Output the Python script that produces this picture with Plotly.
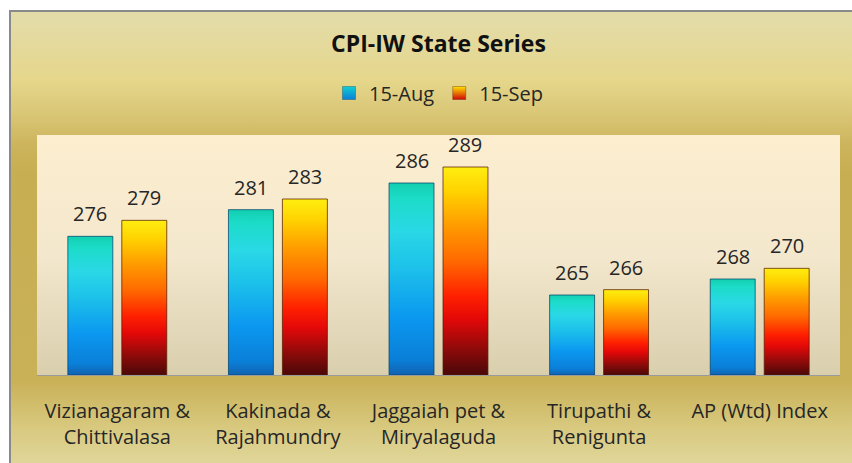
import base64
import plotly.graph_objects as go

# ---------------- data ----------------
categories = [
    "Vizianagaram &<br>Chittivalasa",
    "Kakinada &<br>Rajahmundry",
    "Jaggaiah pet &<br>Miryalaguda",
    "Tirupathi &<br>Renigunta",
    "AP (Wtd) Index",
]
series_names = ["15-Aug", "15-Sep"]
aug_values = [276, 281, 286, 265, 268]
sep_values = [279, 283, 289, 266, 270]
y_range = [250, 295]

# ---------------- styling ----------------
W, H = 852, 463
ML, MR, MT, MB = 37, 12, 135, 88
PW, PH = W - ML - MR, H - MT - MB
FONT = "Open Sans"

bar_w = 0.28
bar_off = 0.168

aug_scale = [[0.0, "#1262b0"], [0.08, "#0a7fd8"], [0.3, "#0b98f0"],
             [0.55, "#1cc0ea"], [0.75, "#2ad8e6"], [0.92, "#1cdcc8"], [1.0, "#12cfb0"]]
sep_scale = [[0.0, "#4a0808"], [0.12, "#8c0a0a"], [0.27, "#e40808"],
             [0.38, "#ff2000"], [0.55, "#ff6a00"], [0.72, "#ff9c00"],
             [0.88, "#ffd200"], [1.0, "#ffee10"]]

bg_svg = f"""<svg xmlns="http://www.w3.org/2000/svg" width="{W}" height="{H}" viewBox="0 0 {W} {H}" preserveAspectRatio="none">
<defs>
<linearGradient id="gold" x1="0" y1="0" x2="0" y2="1">
<stop offset="0.02" stop-color="#e4dca8"/>
<stop offset="0.15" stop-color="#e5d68a"/>
<stop offset="0.22" stop-color="#dac777"/>
<stop offset="0.29" stop-color="#ccb45c"/>
<stop offset="0.35" stop-color="#c8ae52"/>
<stop offset="0.80" stop-color="#c9b158"/>
<stop offset="0.90" stop-color="#d8c97f"/>
<stop offset="1" stop-color="#e3daa2"/>
</linearGradient>
<linearGradient id="cream" x1="0" y1="0" x2="0" y2="1">
<stop offset="0" stop-color="#fdeecf"/>
<stop offset="0.5" stop-color="#f3e7cd"/>
<stop offset="1" stop-color="#d9cfad"/>
</linearGradient>
</defs>
<rect x="0" y="0" width="{W}" height="{H}" fill="#ffffff"/>
<rect x="10" y="11" width="{W}" height="{H}" fill="url(#gold)"/>
<rect x="9" y="10" width="{W}" height="2" fill="#8a8a8a"/>
<rect x="9" y="10" width="2" height="{H}" fill="#8a8a8a"/>
<rect x="{ML}" y="{MT}" width="{PW}" height="{PH}" fill="url(#cream)"/>
</svg>"""
bg_uri = "data:image/svg+xml;base64," + base64.b64encode(bg_svg.encode()).decode()

fig = go.Figure()

series = [
    (series_names[0], aug_values, aug_scale, -bar_off, "rgba(0,70,110,0.75)", "#12cfd0", "#0a7fd8"),
    (series_names[1], sep_values, sep_scale, bar_off, "rgba(90,30,0,0.75)", "#ffe000", "#d00808"),
]

base = y_range[0]
for name, vals, scale, off, edge, ctop, cbot in series:
    for i, v in enumerate(vals):
        x0 = i + off - bar_w / 2
        x1 = i + off + bar_w / 2
        fig.add_trace(go.Scatter(
            x=[x0, x0, x1, x1, x0],
            y=[base, v, v, base, base],
            mode="lines",
            fill="toself",
            fillgradient=dict(type="vertical", colorscale=scale, start=base, stop=v),
            line=dict(color=edge, width=1),
            hoverinfo="skip",
            showlegend=False,
        ))
        fig.add_annotation(
            x=i + off, y=v, text=str(v), showarrow=False,
            xref="x", yref="y", yanchor="bottom", yshift=7,
            font=dict(family=FONT, size=20, color="#262626"),
        )
    # legend entry
    fig.add_trace(go.Scatter(
        x=[None], y=[None], mode="markers", name=name,
        marker=dict(symbol="square", size=13, color=ctop,
                    gradient=dict(type="vertical", color=cbot),
                    line=dict(width=0.5, color=edge)),
    ))

fig.update_layout(
    width=W, height=H, autosize=False,
    margin=dict(l=ML, r=MR, t=MT, b=MB),
    paper_bgcolor="#cdb660",
    plot_bgcolor="rgba(0,0,0,0)",
    images=[dict(
        source=bg_uri, xref="paper", yref="paper",
        x=-ML / PW, y=1 + MT / PH, sizex=W / PW, sizey=H / PH,
        xanchor="left", yanchor="top", sizing="stretch", layer="below",
    )],
    title=dict(
        text="<b>CPI-IW State Series</b>",
        x=0.5, xref="paper", xanchor="center",
        y=1 - 44 / H, yref="container", yanchor="middle",
        font=dict(family=FONT, size=23, color="#111111"),
    ),
    legend=dict(
        orientation="h", x=0.5, xanchor="center",
        y=(H - MB - 93) / PH, yanchor="middle",
        bgcolor="rgba(0,0,0,0)",
        font=dict(family=FONT, size=20, color="#262626"),
    ),
    xaxis=dict(
        range=[-0.5, len(categories) - 0.5],
        tickmode="array", tickvals=list(range(len(categories))), ticktext=categories,
        showgrid=False, zeroline=False,
        showline=True, linecolor="#9a9a9a", linewidth=1,
        ticks="", ticklabelstandoff=18,
        tickfont=dict(family=FONT, size=20, color="#262626"),
        fixedrange=True,
    ),
    yaxis=dict(
        range=y_range, showgrid=False, zeroline=False,
        showticklabels=False, showline=False, ticks="",
        fixedrange=True,
    ),
    showlegend=True,
)

fig.write_html(
    "out.html",
    config={"displayModeBar": False, "staticPlot": True},
    post_script=(
        "document.documentElement.style.overflow='hidden';"
        "document.body.style.margin='0';"
        "document.body.style.overflow='hidden';"
        "document.body.style.background='linear-gradient(#e4dca8 2%, #e5d68a 15%, #c8ae52 35%, #c9b158 80%, #e3daa2)';"
    ),
)
